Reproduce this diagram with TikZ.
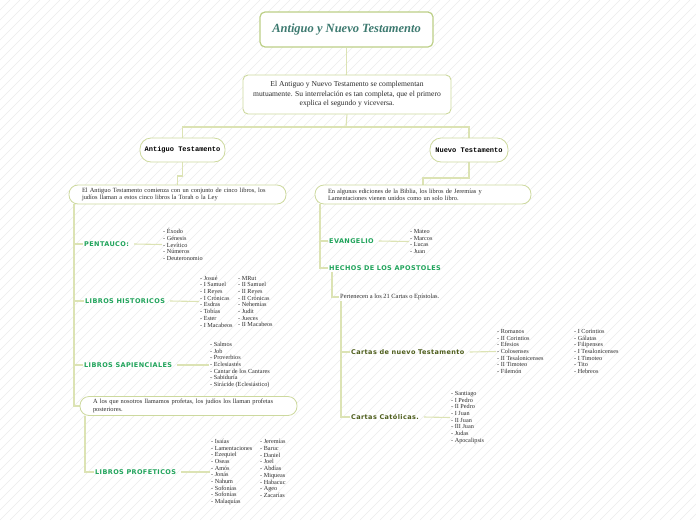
\documentclass[tikz,border=0pt]{standalone}
\usepackage{fontspec}
\setmainfont{Liberation Serif}
\newfontfamily\labelfont[LetterSpace=6]{DejaVu Sans Bold}
\newfontfamily\monofont{Liberation Mono}
\usepackage{xcolor}
\usetikzlibrary{backgrounds}
\definecolor{linkline}{HTML}{DCE3B4}
\definecolor{boxline}{HTML}{CDD99E}
\definecolor{titleline}{HTML}{BCCF86}
\definecolor{branchgreen}{HTML}{1FA35A}
\definecolor{brancholive}{HTML}{4C5C1A}
\definecolor{titleteal}{HTML}{3D7A70}
\definecolor{hatchgray}{HTML}{EBEBEB}
\definecolor{textdark}{HTML}{2B2B2B}
\tikzset{
    titlebox/.style={rectangle, draw=titleline, line width=1.2pt, rounded corners=5pt, fill=white, minimum width=173pt, minimum height=35pt, font=\fontsize{12.5}{14}\selectfont\bfseries\itshape, text=titleteal},
    introbox/.style={rectangle, draw=boxline, line width=0.9pt, rounded corners=5pt, fill=white, minimum width=208pt, minimum height=39pt, align=center, text=textdark, font=\fontsize{7.6}{9.5}\selectfont},
    testbox/.style={rectangle, draw=boxline, line width=0.8pt, rounded corners=11pt, fill=white, minimum height=24pt, font=\monofont\fontsize{7}{8}\selectfont\bfseries},
    pillbox/.style={rectangle, draw=boxline, line width=0.8pt, rounded corners=9pt, fill=white, minimum height=19pt, inner xsep=13pt, inner ysep=2pt, align=left, text=textdark, font=\fontsize{6.4}{7.2}\selectfont},
    branch/.style={anchor=west, inner sep=1pt, font=\labelfont\fontsize{6.5}{8}\selectfont, text=branchgreen},
    subbranch/.style={branch, text=brancholive},
    books/.style={anchor=west, inner sep=1pt, align=left, text=textdark, font=\fontsize{6.2}{6.7}\selectfont},
    link/.style={draw=linkline, line width=1.1pt},
    hatch/.style={draw=hatchgray, line width=0.4pt}
}
\begin{document}
\begin{tikzpicture}[x=1pt, y=-1pt]
\useasboundingbox (0,0) rectangle (696,520);

\node[titlebox] (title) at (346.5,29.5) {Antiguo y Nuevo Testamento};
\node[introbox] (intro) at (347,94.5) {El Antiguo y Nuevo Testamento se complementan\\ mutuamente. Su interrelación es tan completa, que el primero\\ explica el segundo y viceversa.};

\node[testbox, minimum width=85pt] (antiguo) at (182.5,150) {Antiguo Testamento};
\node[testbox, minimum width=78pt] (nuevo) at (469,150) {Nuevo Testamento};

\node[pillbox, text width=191pt] (atintro) at (177.5,194.5) {El Antiguo Testamento comienza con un conjunto de cinco libros, los\\ judíos llaman a estos cinco libros la Torah o la Ley};
\node[pillbox, text width=190pt] (ntintro) at (423,194.5) {En algunas ediciones de la Biblia, los libros de Jeremías y\\ Lamentaciones vienen unidos como un solo libro.};
\node[pillbox, text width=191pt] (profintro) at (188.5,406) {A los que nosotros llamamos profetas, los judíos los llaman profetas\\ posteriores.};

\coordinate (split) at (346,127);
\coordinate (atknee) at (182.5,176);
\coordinate (ntknee) at (469,178);
\coordinate (atrunk) at (74,406);
\coordinate (ntrunk) at (320,268);
\coordinate (hknee) at (332,297);
\coordinate (cknee) at (341,417);
\coordinate (pknee) at (85,472);

\node[branch] (pentauco) at (83,244) {PENTAUCO:};
\node[branch] (historicos) at (84,301) {LIBROS HISTORICOS};
\node[branch] (sapienciales) at (83,365) {LIBROS SAPIENCIALES};
\node[branch] (profeticos) at (94,472) {LIBROS PROFETICOS};
\node[branch] (evangelio) at (328,241) {EVANGELIO};
\node[branch] (hechos) at (328,268) {HECHOS DE LOS APOSTOLES};
\node[books, font=\fontsize{6.4}{7}\selectfont] (pertenecen) at (339,297) {Pertenecen a los 21 Cartas o Epístolas.};
\node[subbranch] (cartasnt) at (350,352) {Cartas de nuevo Testamento};
\node[subbranch] (catolicas) at (350,417) {Cartas Católicas.};

\node[books] (pentlist) at (162,244.5) {- Éxodo\\ - Génesis\\ - Levítico\\ - Números\\ - Deuteronomio};
\node[books] (histlist) at (199,301.5) {- Josué\\ - I Samuel\\ - I Reyes\\ - I Crónicas\\ - Esdras\\ - Tobías\\ - Ester\\ - I Macabeos};
\node[books] (histlistb) at (237,301.5) {- MRut\\ - II Samuel\\ - II Reyes\\ - II Crónicas\\ - Nehemías\\ - Judit\\ - Jueces\\ - II Macabeos};
\node[books] (saplist) at (209,365) {- Salmos\\ - Job\\ - Proverbios\\ - Eclesiastés\\ - Cantar de los Cantares\\ - Sabiduría\\ - Sirácide (Eclesiástico)};
\node[books] (proflist) at (210,472) {- Isaías\\ - Lamentaciones\\ - Ezequiel\\ - Oseas\\ - Amós\\ - Jonás\\ - Nahum\\ - Sofonías\\ - Sofonías\\ - Malaquías};
\node[books] (proflistb) at (259,468.5) {- Jeremías\\ - Baruc\\ - Daniel\\ - Joel\\ - Abdías\\ - Miqueas\\ - Habacuc\\ - Ageo\\ - Zacarías};
\node[books] (evlist) at (409,241.5) {- Mateo\\ - Marcos\\ - Lucas\\ - Juan};
\node[books] (ntlist) at (496,351.5) {- Romanos\\ - II Corintios\\ - Efesios\\ - Colosenses\\ - II Tesalonicenses\\ - II Timoteo\\ - Filemón};
\node[books] (ntlistb) at (573,351.5) {- I Corintios\\ - Gálatas\\ - Filipenses\\ - I Tesalonicenses\\ - I Timoteo\\ - Tito\\ - Hebreos};
\node[books] (catlist) at (450,417.5) {- Santiago\\ - I Pedro\\ - II Pedro\\ - I Juan\\ - II Juan\\ - III Juan\\ - Judas\\ - Apocalipsis};

\begin{scope}[on background layer]
\begin{scope}
\clip (0,0) rectangle (696,520);
\foreach \i in {0,10,...,1220}
    \draw[hatch] (\i-520,520) -- (\i,0);
\end{scope}

\draw[link] (title.south) -- (title.south |- intro.north);
\draw[link] (intro.south) -- (split);
\draw[link] (antiguo.north) |- (split) -| (nuevo.north);
\draw[link] (antiguo.south) -- (atknee) -| (atintro.north);
\draw[link] (nuevo.south) -- (ntknee) -| (ntintro.north);

\draw[link] (atintro.south -| atrunk) -- (atrunk) -- (profintro.west);
\draw[link] (pentauco.west -| atrunk) -- (pentauco.west);
\draw[link] (historicos.west -| atrunk) -- (historicos.west);
\draw[link] (sapienciales.west -| atrunk) -- (sapienciales.west);
\draw[link] ([xshift=4pt]pentauco.east) -- (pentlist.west);
\draw[link] ([xshift=4pt]historicos.east) -- (histlist.west);
\draw[link] ([xshift=4pt]sapienciales.east) -- (saplist.west);
\draw[link] (profintro.south -| pknee) -- (pknee) -- (profeticos.west);
\draw[link] ([xshift=4pt]profeticos.east) -- (proflist.west);

\draw[link] (ntintro.south -| ntrunk) -- (ntrunk) -- (hechos.west);
\draw[link] (evangelio.west -| ntrunk) -- (evangelio.west);
\draw[link] ([xshift=4pt]evangelio.east) -- (evlist.west);
\draw[link] (hechos.south -| hknee) -- (hknee) -- (pertenecen.west);
\draw[link] (pertenecen.south -| cknee) -- (cknee) -- (catolicas.west);
\draw[link] (cartasnt.west -| cknee) -- (cartasnt.west);
\draw[link] ([xshift=4pt]cartasnt.east) -- (ntlist.west);
\draw[link] ([xshift=4pt]catolicas.east) -- (catlist.west);
\end{scope}

\end{tikzpicture}
\end{document}
